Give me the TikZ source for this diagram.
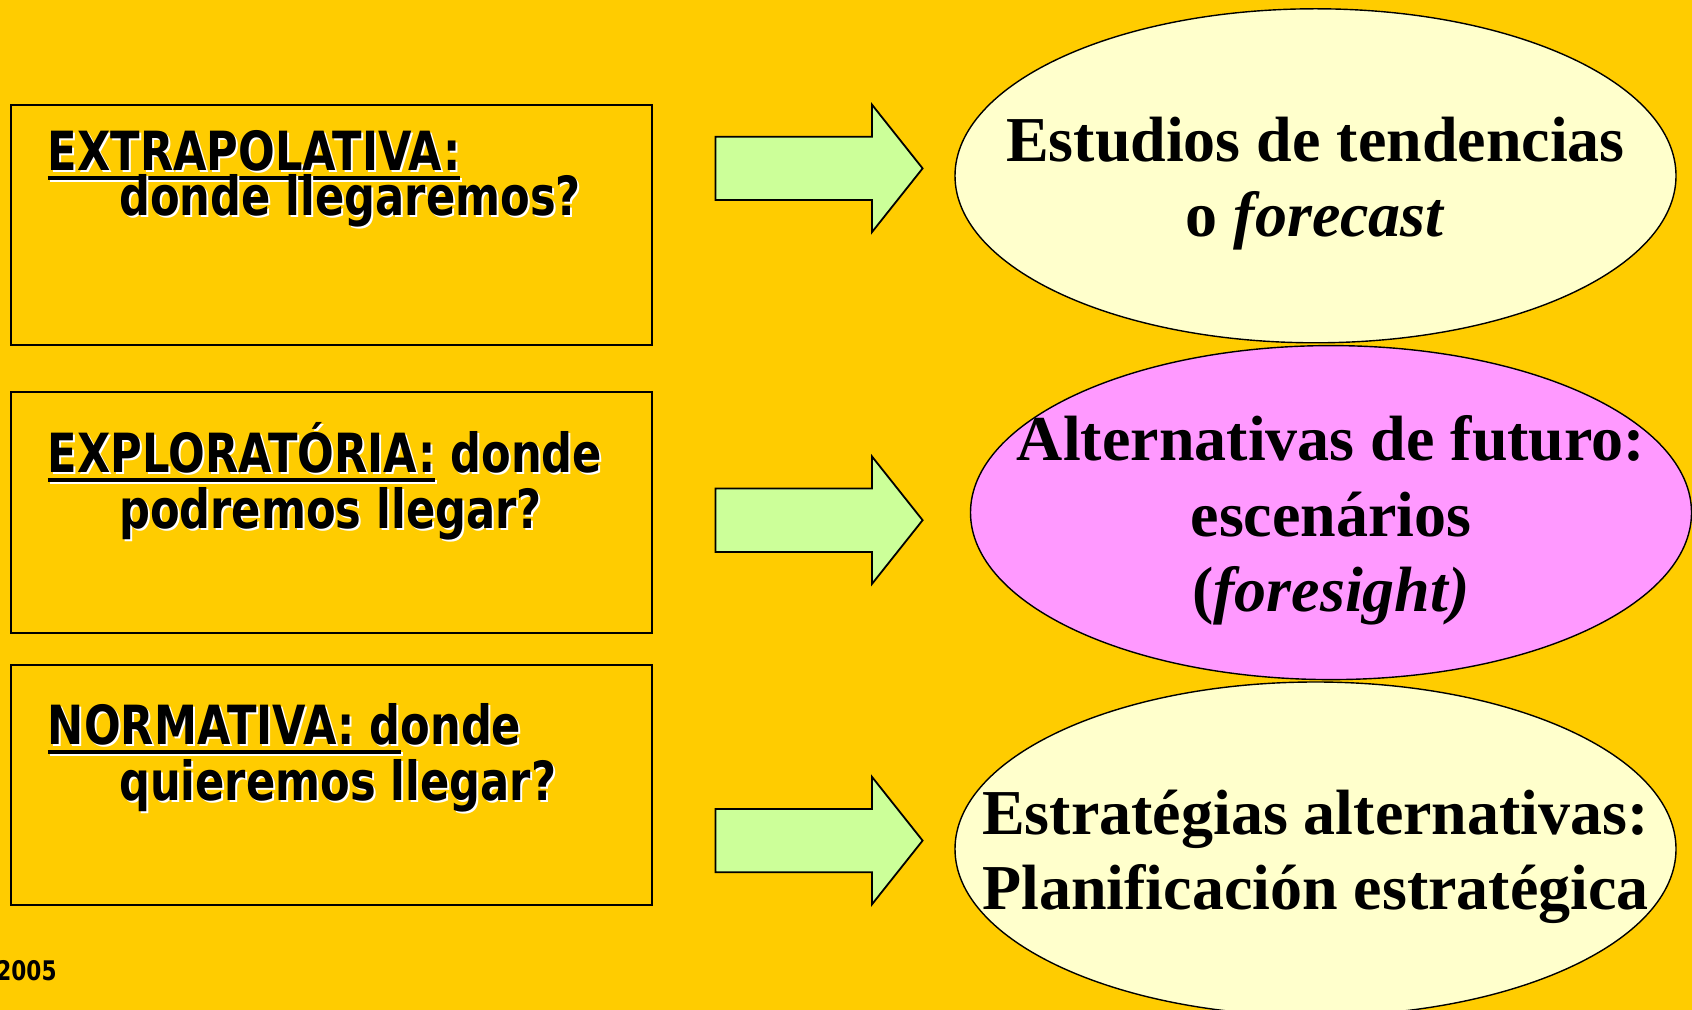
\documentclass[tikz,border=0pt]{standalone}
\usepackage{fontspec}
\usetikzlibrary{shapes.geometric}
\newfontfamily\boxfont[FakeStretch=0.8]{DejaVu Sans}
\newfontfamily\ovalfont{Liberation Serif}

\definecolor{slidebg}{HTML}{FFCC00}
\definecolor{arrowgreen}{HTML}{CCFF99}
\definecolor{palecream}{HTML}{FFFFCC}
\definecolor{pinkoval}{HTML}{FF99FF}

% thick underline
\newsavebox{\ulsave}
\newcommand{\ulword}[1]{\sbox{\ulsave}{#1}\rlap{\rule[-4.6pt]{\wd\ulsave}{1.8pt}}\usebox{\ulsave}}
% one line of box text with its white shadow
\newcommand{\shadowline}[3]{%
  \node[boxtxt, text=white] at ([shift={(2,2)}]#2) {#3};
  \node[boxtxt] (#1) at (#2) {#3};}

\begin{document}
\begin{tikzpicture}[x=0.5pt, y=-0.5pt,
  box/.style={draw, line width=1pt, minimum width=320.5pt, minimum height=120pt, inner sep=0pt},
  boxtxt/.style={anchor=base west, inner sep=0pt, font=\boxfont\bfseries\fontsize{27}{32}\selectfont},
  oval/.style={ellipse, draw, line width=0.7pt, minimum width=360.5pt, minimum height=167pt, inner sep=0pt},
  ovaltxt/.style={align=center, inner sep=0pt, font=\ovalfont\bfseries\fontsize{32}{37.75}\selectfont},
  blockarrow/.style={draw, line width=0.9pt, fill=arrowgreen, line join=miter}]
	\fill[slidebg] (0,0) rectangle (1692,1010);
	\useasboundingbox (0,0) rectangle (1692,1010);

	% question boxes
	\node[box] (extrap) at (331.3,225) {};
	\node[box] (explor) at (331.3,512.5) {};
	\node[box] (norm) at (331.3,784.5) {};

	\shadowline{extrapA}{47.5,170.5}{\ulword{EXTRAPOLATIVA:}}
	\shadowline{extrapB}{118.7,215.8}{donde llegaremos?}
	\shadowline{explorA}{47.5,472.6}{\ulword{EXPLORATÓRIA:} donde}
	\shadowline{explorB}{118.7,528.8}{podremos llegar?}
	\shadowline{normA}{47.5,744.6}{\ulword{NORMATIVA: d}onde}
	\shadowline{normB}{118.7,800.7}{quieremos llegar?}

	\node[anchor=base west, inner sep=0pt, font=\boxfont\bfseries\fontsize{13.5}{16}\selectfont] (year) at (-4,980) {2005};

	% block arrows
	\foreach \ty in {168.4, 520.2, 840.6}
		\draw[blockarrow] (715.5,\ty-31.7) -- (872,\ty-31.7) -- (872,\ty-63.7) -- (922.6,\ty)
			-- (872,\ty+63.7) -- (872,\ty+31.7) -- (715.5,\ty+31.7) -- cycle;

	% answer ovals
	\node[oval, fill=palecream] (trend) at (1315.5,175.8) {};
	\node[oval, fill=pinkoval] (scen) at (1331,512.6) {};
	\node[oval, fill=palecream] (strat) at (1315.5,849) {};

	\node[ovaltxt] (trendtxt) at ([shift={(0,8)}]trend.center) {Estudios de tendencias\\o \textit{forecast}};
	\node[ovaltxt] (scentxt) at ([shift={(0,8)}]scen.center) {Alternativas de futuro:\\escenários\\(\textit{foresight)}};
	\node[ovaltxt] (strattxt) at ([shift={(0,8)}]strat.center) {Estratégias alternativas:\\Planificación estratégica};
\end{tikzpicture}
\end{document}
